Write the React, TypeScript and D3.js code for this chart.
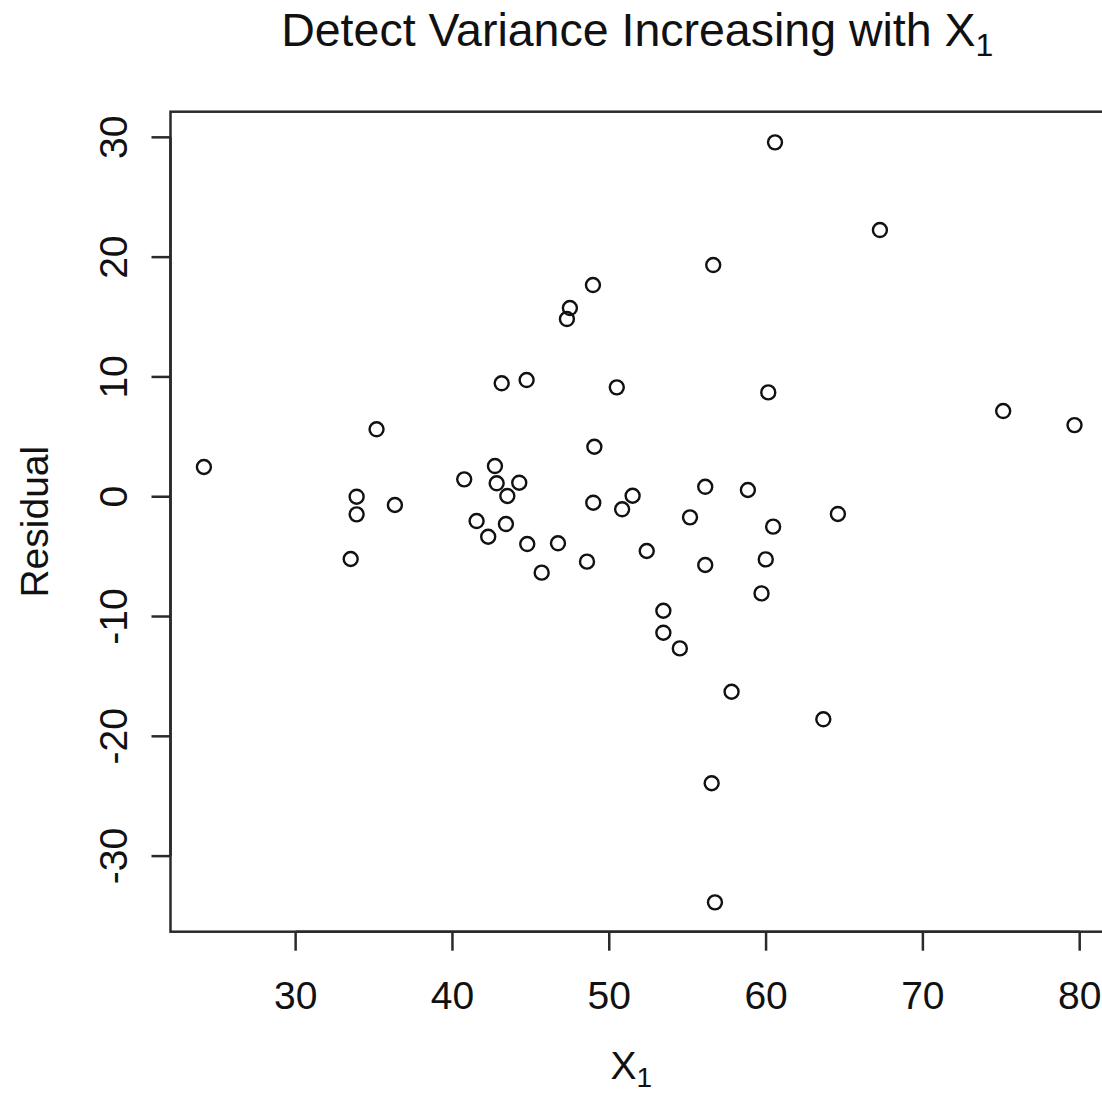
import React from "react";
import * as d3 from "d3";

// X1 values for each observation
const x1Values: number[] = [
  24.15, 60.57, 67.26, 56.63, 48.96, 47.49, 47.3, 43.14, 44.73, 50.48,
  60.14, 75.12, 79.67, 35.16, 49.05, 40.75, 42.71, 42.82, 44.26, 43.5,
  33.89, 33.89, 36.33, 33.51, 41.54, 43.41, 42.28, 44.77, 45.69, 48.98,
  51.49, 50.82, 56.12, 58.84, 55.15, 60.45, 64.58, 46.73, 48.58, 52.39,
  56.12, 59.98, 59.71, 53.45, 53.45, 54.5, 57.8, 63.65, 56.53, 56.74,
];

// Residual values for each observation
const residualValues: number[] = [
  2.48, 29.58, 22.26, 19.34, 17.67, 15.75, 14.83, 9.47, 9.74, 9.13,
  8.71, 7.15, 5.98, 5.63, 4.17, 1.45, 2.56, 1.12, 1.17, 0.06,
  0.0, -1.47, -0.69, -5.2, -2.03, -2.28, -3.34, -3.95, -6.34, -0.5,
  0.08, -1.05, 0.83, 0.56, -1.72, -2.5, -1.44, -3.89, -5.42, -4.53,
  -5.7, -5.23, -8.07, -9.52, -11.35, -12.66, -16.28, -18.58, -23.92, -33.86,
];

const xTicks: number[] = [30, 40, 50, 60, 70, 80];
const yTicks: number[] = [-30, -20, -10, 0, 10, 20, 30];

const titleMain = "Detect Variance Increasing with X";
const titleSub = "1";
const xLabelMain = "X";
const xLabelSub = "1";
const yLabel = "Residual";

const FONT = "'Liberation Sans', Arial, Helvetica, sans-serif";

export default function App() {
  const W = 1102;
  const H = 1093;
  const left = 170.5;
  const right = 1104;
  const top = 111.7;
  const bottom = 931.7;

  const x = d3.scaleLinear().domain([22.02, 81.55]).range([left, right]);
  const y = d3.scaleLinear().domain([-36.31, 32.14]).range([bottom, top]);

  const axisColor = "#2a2a2a";
  const points = x1Values.map((v, i) => ({ x: v, y: residualValues[i] }));

  return (
    <svg
      width={W}
      height={H}
      viewBox={`0 0 ${W} ${H}`}
      style={{ position: "absolute", left: 0, top: 0, display: "block", background: "#fff" }}
    >
      <rect x={0} y={0} width={W} height={H} fill="#fff" />
      {/* Title */}
      <text x={(left + right) / 2} y={46} textAnchor="middle" fontFamily={FONT} fontSize={46.5} fill="#111">
        {titleMain}
        <tspan fontSize={32} dy={10}>{titleSub}</tspan>
      </text>

      {/* Plot box */}
      <rect
        x={left}
        y={top}
        width={right - left}
        height={bottom - top}
        fill="none"
        stroke={axisColor}
        strokeWidth={2.5}
      />

      {/* X axis ticks */}
      <line x1={x(xTicks[0])} x2={x(xTicks[xTicks.length - 1])} y1={bottom} y2={bottom} stroke={axisColor} strokeWidth={2.5} />
      {xTicks.map((t) => (
        <g key={`xt${t}`}>
          <line x1={x(t)} x2={x(t)} y1={bottom} y2={bottom + 19} stroke={axisColor} strokeWidth={2.5} />
          <text x={x(t)} y={1009} textAnchor="middle" fontFamily={FONT} fontSize={39} fill="#111">
            {t}
          </text>
        </g>
      ))}

      {/* Y axis ticks */}
      <line x1={left} x2={left} y1={y(yTicks[0])} y2={y(yTicks[yTicks.length - 1])} stroke={axisColor} strokeWidth={2.5} />
      {yTicks.map((t) => (
        <g key={`yt${t}`}>
          <line x1={left} x2={left - 19} y1={y(t)} y2={y(t)} stroke={axisColor} strokeWidth={2.5} />
          <text
            transform={`translate(127,${y(t)}) rotate(-90)`}
            textAnchor="middle"
            fontFamily={FONT}
            fontSize={39}
            fill="#111"
          >
            {t}
          </text>
        </g>
      ))}

      {/* Axis labels */}
      <text x={(left + right) / 2 - 6} y={1079} textAnchor="middle" fontFamily={FONT} fontSize={39} fill="#111">
        {xLabelMain}
        <tspan fontSize={28} dy={8}>{xLabelSub}</tspan>
      </text>
      <text
        transform={`translate(48,${(top + bottom) / 2}) rotate(-90)`}
        textAnchor="middle"
        fontFamily={FONT}
        fontSize={39}
        fill="#111"
      >
        {yLabel}
      </text>

      {/* Points */}
      {points.map((p, i) => (
        <circle key={i} cx={x(p.x)} cy={y(p.y)} r={7} fill="none" stroke="#111" strokeWidth={2.4} />
      ))}
    </svg>
  );
}
